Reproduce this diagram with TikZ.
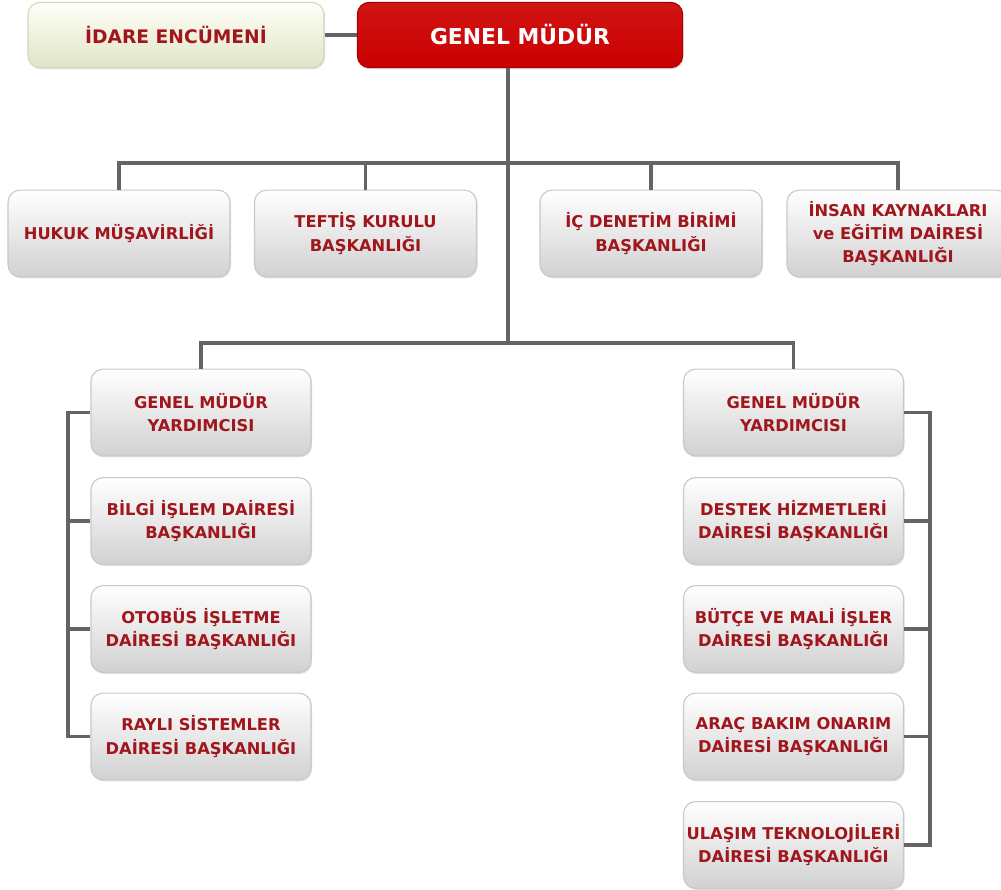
\documentclass[tikz,border=0pt]{standalone}
\usepackage{fontspec}
\setmainfont{DejaVu Sans}
\usepackage{tikz}
\usetikzlibrary{positioning, calc, shadows}
\usepackage{xcolor}
\definecolor{boxtext}{RGB}{160,22,28}
\definecolor{gmred}{RGB}{204,0,0}
\definecolor{linegray}{RGB}{100,100,100}
\definecolor{boxline}{RGB}{200,200,200}

\tikzset{
  unit/.style={rounded corners=9pt, draw=boxline, line width=0.8pt,
    top color=white, bottom color=black!18, text=boxtext,
    minimum width=165pt, minimum height=65pt, inner sep=0pt, align=center,
    font=\bfseries\fontsize{12.2}{17.5}\selectfont,
    drop shadow={opacity=0.25, shadow xshift=0.8pt, shadow yshift=-1.2pt}},
  wide/.style={unit, minimum width=166.5pt},
  conn/.style={draw=linegray, line width=2.6pt}
}

\begin{document}
\begin{tikzpicture}[x=0.75pt, y=-0.75pt]
  \useasboundingbox (0,0) rectangle (1001,890);
  % top level
  \node[unit, minimum width=222pt, minimum height=49pt, top color=white!60!yellow!8,
        bottom color={rgb,255:red,224;green,228;blue,200}, draw={rgb,255:red,210;green,214;blue,190},
        font=\bfseries\fontsize{14}{16}\selectfont] (idare) at (176,35) {İDARE ENCÜMENİ};
  \node[unit, minimum width=244pt, minimum height=49pt, top color=gmred!92, bottom color=gmred,
        draw=gmred!80!black, text=white, font=\bfseries\fontsize{16.4}{19}\selectfont] (gm) at (520,35) {GENEL MÜDÜR};
  \coordinate (t1) at (508,163);
  \coordinate (t2) at (508,343);
  \coordinate (lbus) at (68,0);
  \coordinate (rbus) at (930,0);

  % staff units
  \node[wide] (hukuk) at (119,233.5) {HUKUK MÜŞAVİRLİĞİ};
  \node[wide] (teftis) at (365.5,233.5) {TEFTİŞ KURULU\\BAŞKANLIĞI};
  \node[wide] (icden) at (651,233.5) {İÇ DENETİM BİRİMİ\\BAŞKANLIĞI};
  \node[wide] (insan) at (898,233.5) {İNSAN KAYNAKLARI\\ve EĞİTİM DAİRESİ\\BAŞKANLIĞI};

  % left deputy
  \node[unit] (gmyl) at (201,412.5) {GENEL MÜDÜR\\YARDIMCISI};
  \node[unit] (bilgi) at (201,521) {BİLGİ İŞLEM DAİRESİ\\BAŞKANLIĞI};
  \node[unit] (otobus) at (201,629) {OTOBÜS İŞLETME\\DAİRESİ BAŞKANLIĞI};
  \node[unit] (rayli) at (201,736.5) {RAYLI SİSTEMLER\\DAİRESİ BAŞKANLIĞI};

  % right deputy
  \node[unit] (gmyr) at (793.5,412.5) {GENEL MÜDÜR\\YARDIMCISI};
  \node[unit] (destek) at (793.5,521) {DESTEK HİZMETLERİ\\DAİRESİ BAŞKANLIĞI};
  \node[unit] (butce) at (793.5,629) {BÜTÇE VE MALİ İŞLER\\DAİRESİ BAŞKANLIĞI};
  \node[unit] (arac) at (793.5,736.5) {ARAÇ BAKIM ONARIM\\DAİRESİ BAŞKANLIĞI};
  \node[unit] (ulasim) at (793.5,845) {ULAŞIM TEKNOLOJİLERİ\\DAİRESİ BAŞKANLIĞI};

  % connectors
  \draw[conn] (idare) -- (gm);
  \draw[conn] (gm.south -| t1) -- (t2);
  \draw[conn] (hukuk.north) |- (t1) -| (insan.north);
  \draw[conn] (teftis.north) -- (teftis.north |- t1);
  \draw[conn] (icden.north) -- (icden.north |- t1);
  \draw[conn] (gmyl.north) |- (t2) -| (gmyr.north);
  \draw[conn] (gmyl.west) -- (gmyl.west -| lbus) -- (rayli.west -| lbus) -- (rayli.west);
  \foreach \n in {bilgi, otobus}
    \draw[conn] (\n.west) -- (\n.west -| lbus);
  \draw[conn] (gmyr.east) -- (gmyr.east -| rbus) -- (ulasim.east -| rbus) -- (ulasim.east);
  \foreach \n in {destek, butce, arac}
    \draw[conn] (\n.east) -- (\n.east -| rbus);
\end{tikzpicture}
\end{document}
